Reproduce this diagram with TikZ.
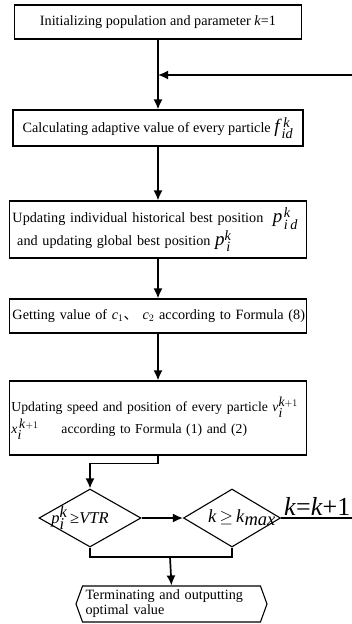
\documentclass[tikz,border=0pt]{standalone}
\usepackage{fontspec}
\setmainfont{Liberation Serif}
\newfontfamily\cjk{Noto Sans CJK SC}
\usetikzlibrary{arrows.meta,shapes.geometric,shapes.symbols}

\begin{document}
\begin{tikzpicture}[x=1pt,y=1pt]
\tikzset{box/.style = {shape=rectangle,draw,line width=1.1pt,inner xsep=3pt,font=\fontsize{14.2}{16}\selectfont}}
\tikzset{decision/.style = {shape=diamond,draw,line width=1.1pt,inner sep=0pt}}
\tikzset{edge/.style = {-,line width=1.7pt}}
\tikzset{arrow/.style = {-{Latex[length=10pt,width=9pt]},line width=1.7pt}}
\useasboundingbox (0,0) rectangle (351,-624);

\node[box,minimum width=287,minimum height=34] (init) at (158,-22) {Initializing population and parameter \textit{k}=1};
\node[box,minimum width=290,minimum height=36] (calc) at (158,-128) {Calculating adaptive value of every particle {\fontsize{19}{19}\selectfont\textit{f}}$^{\,\textit{k}}_{\textit{id}}$};
\node[box,minimum width=297,minimum height=57,text width=291,align=left] (best) at (158,-229.5) {Updating individual historical best position \ {\fontsize{19}{19}\selectfont\textit{p}}$^{\,\textit{k}}_{\,\textit{i\,d}}$\\ \ and updating global best position {\fontsize{19}{19}\selectfont\textit{p}}$^{\textit{k}}_{\,\textit{i}}$};
\node[box,minimum width=297,minimum height=34,text width=291,align=left] (coef) at (158,-316) {\mbox{Getting value of $\textit{c}_1${\cjk 、} $\textit{c}_2$ according to Formula (8)}};
\node[box,minimum width=297,minimum height=74,text width=293,align=left,inner xsep=2pt,font=\fontsize{13.7}{16}\selectfont] (move) at (158,-418) {\mbox{Updating speed and position of every particle $\textit{v}_{\textit{i}}^{\textit{k}{+}1}$}\\ $\textit{x}_{\textit{i}}^{\,\textit{k}{+}1}$\quad\ \ according to Formula (1) and (2)};

\node[decision,minimum width=102,minimum height=58,label=center:{\fontsize{16.5}{18}\selectfont\hspace{-20pt}\textit{p}$_{\textit{i}}^{\textit{k}}$\,≥\textit{VTR}}] (fit) at (90,-518) {};
\node[decision,minimum width=97,minimum height=58,label=center:{\fontsize{18.5}{18}\selectfont\hspace{20pt}\textit{k}\,$\geq$\,\textit{k}$_{\textit{max}}$}] (iter) at (232,-518) {};
\node[anchor=west,inner sep=0pt,font=\fontsize{26}{26}\selectfont] (inc) at (284,-506) {\textit{k}=\textit{k}+1};
\node[shape=signal,signal to=west and east,signal pointer angle=140,draw,line width=1.1pt,
      minimum width=191,minimum height=36,text width=172,align=left,inner sep=1pt,
      font=\fontsize{14.2}{15}\selectfont] (stop) at (171.5,-604) {Terminating and outputting\\optimal value};

\coordinate (join) at (158,-75);
\coordinate (back) at (380,-300);
\coordinate (merge) at (170,-557);

\draw[arrow] (init) to (calc);
\draw[arrow] (calc) to (best);
\draw[arrow] (best) to (coef);
\draw[arrow] (coef) to (move);
\draw[arrow] (move.south) -- ++(0,-8) -| (fit.north);
\draw[arrow] (fit.east) to (iter.west);
\draw[edge] (iter.east) -| (back);
\draw[arrow] (back) |- (join);
\draw[edge] (fit.south) |- (merge);
\draw[edge] (iter.south) |- (merge);
\draw[arrow] (merge) to (stop.north);

\end{tikzpicture}
\end{document}
